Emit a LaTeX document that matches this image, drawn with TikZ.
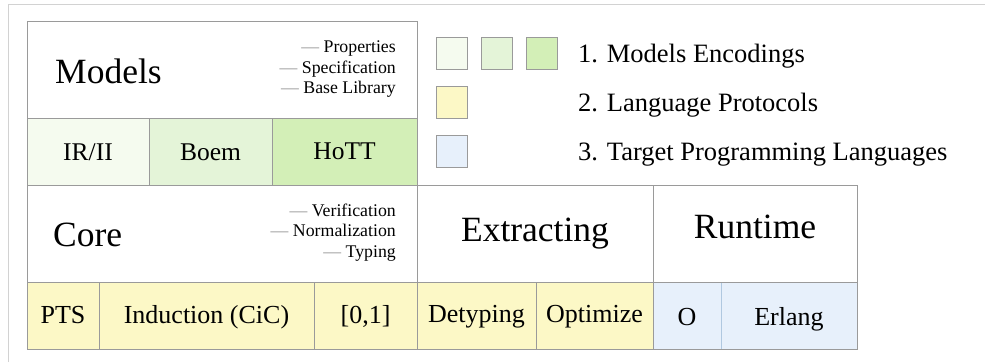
\documentclass[tikz,border=0pt]{standalone}
\usepackage{fontspec}
\IfFontExistsTF{LiberationSerif-Regular.ttf}{\setmainfont{LiberationSerif-Regular.ttf}}{\setmainfont{Liberation Serif}}
\definecolor{lineg}{HTML}{9A9A9A}
\definecolor{frameg}{HTML}{D2D2D2}
\definecolor{dashg}{HTML}{9A9A9A}
\definecolor{gone}{HTML}{F5FBEF}
\definecolor{gtwo}{HTML}{E4F4D8}
\definecolor{gthree}{HTML}{D3EFB7}
\definecolor{yel}{HTML}{FCF8C6}
\definecolor{blu}{HTML}{E7F0FB}
\definecolor{blub}{HTML}{B0C8E0}
\tikzset{
  cellbox/.style={draw=lineg, line width=0.8pt, anchor=north west, inner sep=0pt, outer sep=0pt},
  title/.style={font=\fontsize{35.5}{40}\selectfont, anchor=base, inner sep=0pt},
  celltext/.style={font=\fontsize{25.5}{30}\selectfont, anchor=base, inner sep=0pt},
  bottext/.style={font=\fontsize{26}{30}\selectfont, anchor=base, inner sep=0pt},
  smalltext/.style={font=\fontsize{17.8}{20.5}\selectfont, anchor=base east, inner sep=0pt},
  legtext/.style={font=\fontsize{26.5}{30}\selectfont, anchor=base west, inner sep=0pt},
  legsq/.style={draw=lineg, line width=0.8pt, anchor=north west, minimum width=31pt, minimum height=32pt, inner sep=0pt}
}
\newcommand{\gdash}{\textcolor{dashg}{—}\ }
\begin{document}
\begin{tikzpicture}[x=1pt,y=-1pt]
\useasboundingbox[fill=white] (0,0) rectangle (985,362);
% outer frame
\draw[frameg, line width=0.8pt] (8,362) -- (8,4) -- (985,4);
% Models block
\node[cellbox, fill=white, minimum width=390pt, minimum height=97pt] (models) at (27,21) {};
\node[cellbox, fill=gone, minimum width=122pt, minimum height=67pt] (irii) at (27,118) {};
\node[cellbox, fill=gtwo, minimum width=123pt, minimum height=67pt] (boem) at (149,118) {};
\node[cellbox, fill=gthree, minimum width=145pt, minimum height=67pt] (hott) at (272,118) {};
% Core block
\node[cellbox, fill=white, minimum width=390pt, minimum height=97pt] (core) at (27,185) {};
\node[cellbox, fill=yel, minimum width=72pt, minimum height=67pt] (pts) at (27,282) {};
\node[cellbox, fill=yel, minimum width=215pt, minimum height=67pt] (induct) at (99,282) {};
\node[cellbox, fill=yel, minimum width=103pt, minimum height=67pt] (zeroone) at (314,282) {};
% Extracting block
\node[cellbox, fill=white, minimum width=236pt, minimum height=97pt] (extract) at (417,185) {};
\node[cellbox, fill=yel, minimum width=119pt, minimum height=67pt] (detyp) at (417,282) {};
\node[cellbox, fill=yel, minimum width=117pt, minimum height=67pt] (optim) at (536,282) {};
% Runtime block
\node[cellbox, fill=white, minimum width=204pt, minimum height=97pt] (runtime) at (653,185) {};
\node[cellbox, fill=blu, minimum width=68pt, minimum height=67pt] (ocell) at (653,282) {};
\node[cellbox, fill=blu, minimum width=136pt, minimum height=67pt] (erlang) at (721,282) {};
\draw[blub, line width=0.8pt] (ocell.north east) -- (ocell.south east);
\draw[lineg, line width=0.8pt] (runtime.south west) -- (runtime.south east);
% titles
\node[title, anchor=base west] (tmodels) at (55,83) {Models};
\node[title, anchor=base west] (tcore) at (53,246) {Core};
\node[title] (textract) at (extract.center |- 0,241) {Extracting};
\node[title] (truntime) at (runtime.center |- 0,238) {Runtime};
% small texts
\node[smalltext] (sprop) at (396,52.5) {\gdash Properties};
\node[smalltext] (sspec) at (396,73) {\gdash Specification};
\node[smalltext] (sbase) at (396,93.5) {\gdash Base Library};
\node[smalltext] (sverif) at (396,216) {\gdash Verification};
\node[smalltext] (snorm) at (396,236.5) {\gdash Normalization};
\node[smalltext] (styp) at (396,257) {\gdash Typing};
% cell texts
\node[celltext] (tirii) at (irii.center |- 0,160) {IR/II};
\node[celltext] (tboem) at (boem.center |- 0,160) {Boem};
\node[celltext] (thott) at (hott.center |- 0,159) {HoTT};
\node[bottext] (tpts) at (pts.center |- 0,323) {PTS};
\node[bottext] (tinduct) at (induct.center |- 0,323) {Induction (CiC)};
\node[bottext] (tzero) at (zeroone.center |- 0,323) {[0,1]};
\node[bottext] (tdetyp) at (detyp.center |- 0,322) {Detyping};
\node[bottext] (toptim) at (optim.center |- 0,322) {Optimize};
\node[bottext] (to) at (ocell.center |- 0,325) {O};
\node[bottext] (terlang) at (erlang.center |- 0,325) {Erlang};
% legend
\node[legsq, fill=gone] (lgone) at (436,37) {};
\node[legsq, fill=gtwo] (lgtwo) at (481,37) {};
\node[legsq, fill=gthree] (lgthree) at (526,37) {};
\node[legsq, fill=yel] (lyel) at (436,86) {};
\node[legsq, fill=blu] (lblu) at (436,135) {};
\node[legtext] (ltone) at (578,62) {1. Models Encodings};
\node[legtext] (lttwo) at (578,111) {2. Language Protocols};
\node[legtext] (ltthree) at (578,160) {3. Target Programming Languages};
\end{tikzpicture}
\end{document}
